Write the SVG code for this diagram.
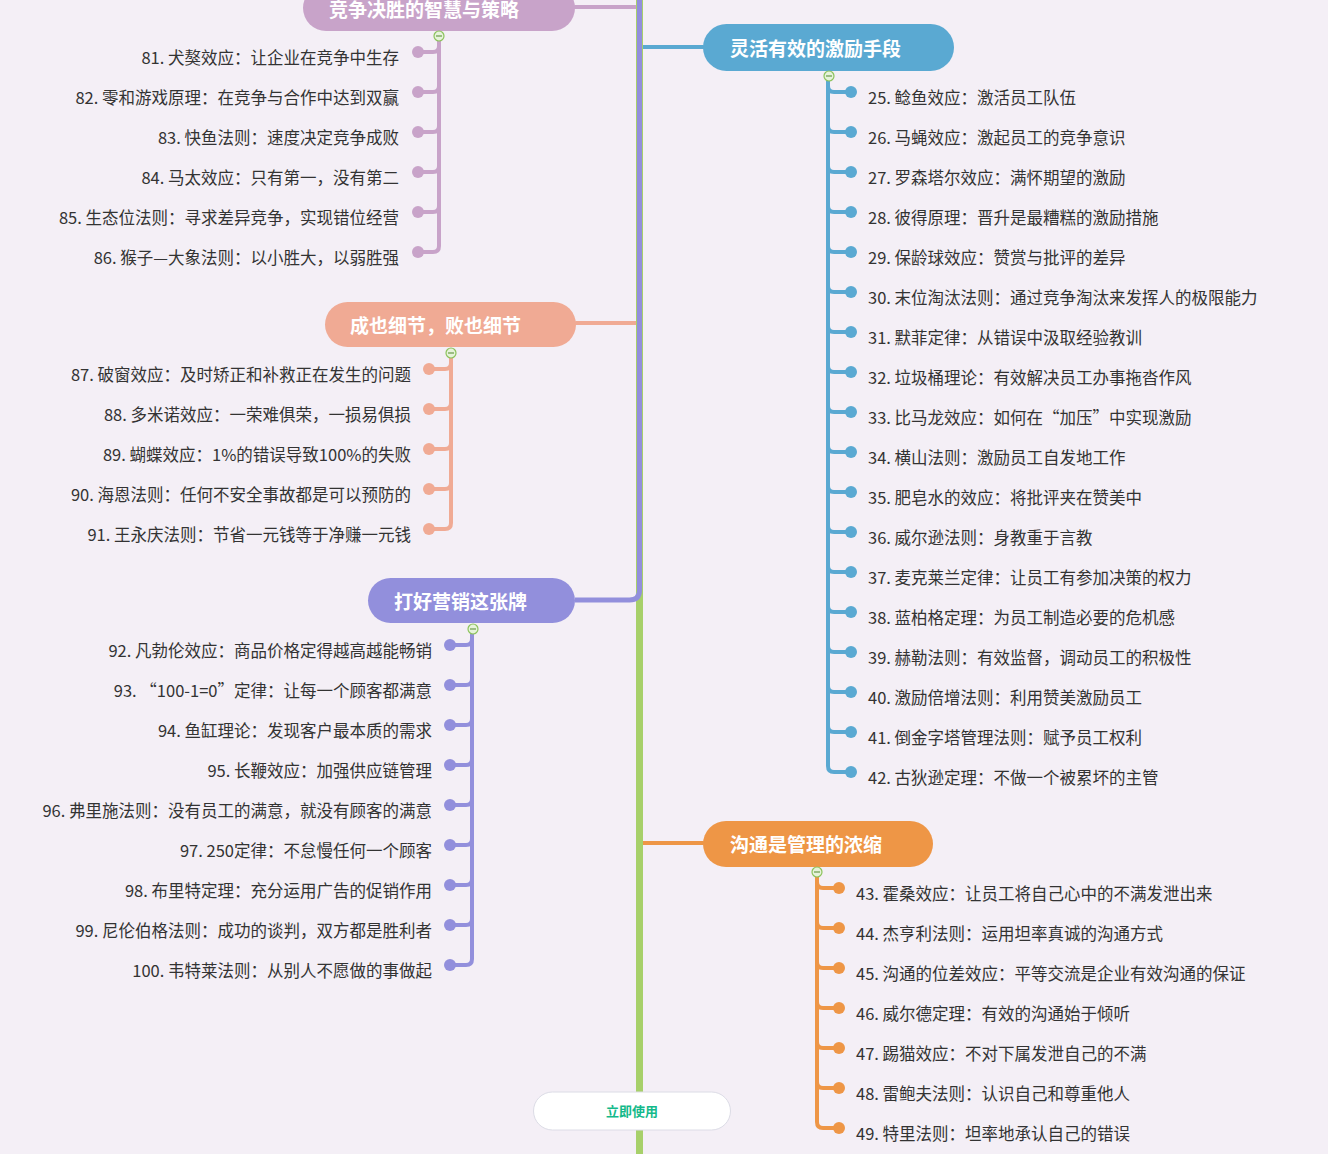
<svg xmlns="http://www.w3.org/2000/svg" width="1328" height="1154" viewBox="0 0 1328 1154">
<style>
.t{font-family:"Noto Sans CJK SC","Noto Sans",sans-serif;font-size:16.5px;fill:#333}
.l{text-anchor:end}
.n{font-family:"Noto Sans CJK SC","Noto Sans",sans-serif;font-size:19px;font-weight:bold;fill:#fff}
.br{fill:none;stroke-width:4;stroke-linecap:round}
.c1{stroke:#c8a3c9}.f1{fill:#c8a3c9}
.c2{stroke:#f0aa94}.f2{fill:#f0aa94}
.c3{stroke:#928fdc}.f3{fill:#928fdc}
.c4{stroke:#5aa9d2}.f4{fill:#5aa9d2}
.c5{stroke:#ee9646}.f5{fill:#ee9646}
.tg{fill:#e6f3da;stroke:#8cc35c;stroke-width:1.2}
.tm{stroke:#6a9a4a;stroke-width:1.2}
</style>
<rect width="1328" height="1154" fill="#f4eff6"/>
<g id="connectors">
<path class="br c1" d="M575,7 H637"/>
<path class="br c2" d="M576,323 H637"/>
<path class="br c4" d="M641,47 H703"/>
<path class="br c5" d="M641,843 H703"/>
<path d="M639.5,0 V1154" stroke="#a7d06a" stroke-width="7" fill="none"/>
<path d="M639.5,0 V590 Q639.5,600 629.5,600 H575" stroke="#928fdc" stroke-width="5" fill="none"/>
<path class="br c1" d="M439,41 V246 M439,46 Q439,52 433,52 H418 M439,86 Q439,92 433,92 H418 M439,126 Q439,132 433,132 H418 M439,166 Q439,172 433,172 H418 M439,206 Q439,212 433,212 H418 M439,246 Q439,252 433,252 H418"/>
<g class="f1"><circle cx="418" cy="52" r="6"/><circle cx="418" cy="92" r="6"/><circle cx="418" cy="132" r="6"/><circle cx="418" cy="172" r="6"/><circle cx="418" cy="212" r="6"/><circle cx="418" cy="252" r="6"/></g>
<path class="br c2" d="M451,358 V523 M451,363 Q451,369 445,369 H429 M451,403 Q451,409 445,409 H429 M451,443 Q451,449 445,449 H429 M451,483 Q451,489 445,489 H429 M451,523 Q451,529 445,529 H429"/>
<g class="f2"><circle cx="429" cy="369" r="6"/><circle cx="429" cy="409" r="6"/><circle cx="429" cy="449" r="6"/><circle cx="429" cy="489" r="6"/><circle cx="429" cy="529" r="6"/></g>
<path class="br c3" d="M472,634 V959 M472,639 Q472,645 466,645 H450 M472,679 Q472,685 466,685 H450 M472,719 Q472,725 466,725 H450 M472,759 Q472,765 466,765 H450 M472,799 Q472,805 466,805 H450 M472,839 Q472,845 466,845 H450 M472,879 Q472,885 466,885 H450 M472,919 Q472,925 466,925 H450 M472,959 Q472,965 466,965 H450"/>
<g class="f3"><circle cx="450" cy="645" r="6"/><circle cx="450" cy="685" r="6"/><circle cx="450" cy="725" r="6"/><circle cx="450" cy="765" r="6"/><circle cx="450" cy="805" r="6"/><circle cx="450" cy="845" r="6"/><circle cx="450" cy="885" r="6"/><circle cx="450" cy="925" r="6"/><circle cx="450" cy="965" r="6"/></g>
<path class="br c4" d="M828,81 V766 M828,86 Q828,92 834,92 H851 M828,126 Q828,132 834,132 H851 M828,166 Q828,172 834,172 H851 M828,206 Q828,212 834,212 H851 M828,246 Q828,252 834,252 H851 M828,286 Q828,292 834,292 H851 M828,326 Q828,332 834,332 H851 M828,366 Q828,372 834,372 H851 M828,406 Q828,412 834,412 H851 M828,446 Q828,452 834,452 H851 M828,486 Q828,492 834,492 H851 M828,526 Q828,532 834,532 H851 M828,566 Q828,572 834,572 H851 M828,606 Q828,612 834,612 H851 M828,646 Q828,652 834,652 H851 M828,686 Q828,692 834,692 H851 M828,726 Q828,732 834,732 H851 M828,766 Q828,772 834,772 H851"/>
<g class="f4"><circle cx="851" cy="92" r="6"/><circle cx="851" cy="132" r="6"/><circle cx="851" cy="172" r="6"/><circle cx="851" cy="212" r="6"/><circle cx="851" cy="252" r="6"/><circle cx="851" cy="292" r="6"/><circle cx="851" cy="332" r="6"/><circle cx="851" cy="372" r="6"/><circle cx="851" cy="412" r="6"/><circle cx="851" cy="452" r="6"/><circle cx="851" cy="492" r="6"/><circle cx="851" cy="532" r="6"/><circle cx="851" cy="572" r="6"/><circle cx="851" cy="612" r="6"/><circle cx="851" cy="652" r="6"/><circle cx="851" cy="692" r="6"/><circle cx="851" cy="732" r="6"/><circle cx="851" cy="772" r="6"/></g>
<path class="br c5" d="M817,877 V1122 M817,882 Q817,888 823,888 H839 M817,922 Q817,928 823,928 H839 M817,962 Q817,968 823,968 H839 M817,1002 Q817,1008 823,1008 H839 M817,1042 Q817,1048 823,1048 H839 M817,1082 Q817,1088 823,1088 H839 M817,1122 Q817,1128 823,1128 H839"/>
<g class="f5"><circle cx="839" cy="888" r="6"/><circle cx="839" cy="928" r="6"/><circle cx="839" cy="968" r="6"/><circle cx="839" cy="1008" r="6"/><circle cx="839" cy="1048" r="6"/><circle cx="839" cy="1088" r="6"/><circle cx="839" cy="1128" r="6"/></g>
</g>
<g id="node-competition">
<rect x="303" y="-15" width="272" height="46" rx="23" class="f1"/>
<text class="n" x="329" y="17">竞争决胜的智慧与策略</text>
<circle class="tg" cx="439" cy="36" r="5"/><path class="tm" d="M436,36 H442"/>
</g>
<g id="node-detail">
<rect x="325" y="302" width="251" height="45" rx="22.5" class="f2"/>
<text class="n" x="350" y="333">成也细节，败也细节</text>
<circle class="tg" cx="451" cy="353" r="5"/><path class="tm" d="M448,353 H454"/>
</g>
<g id="node-marketing">
<rect x="368" y="578" width="207" height="45" rx="22.5" class="f3"/>
<text class="n" x="394" y="609">打好营销这张牌</text>
<circle class="tg" cx="473" cy="629" r="5"/><path class="tm" d="M470,629 H476"/>
</g>
<g id="node-motivation">
<rect x="703" y="24" width="251" height="47" rx="23.5" class="f4"/>
<text class="n" x="730" y="56">灵活有效的激励手段</text>
<circle class="tg" cx="829" cy="76" r="5"/><path class="tm" d="M826,76 H832"/>
</g>
<g id="node-communication">
<rect x="703" y="821" width="230" height="46" rx="23" class="f5"/>
<text class="n" x="730" y="852">沟通是管理的浓缩</text>
<circle class="tg" cx="817" cy="872" r="5"/><path class="tm" d="M814,872 H820"/>
</g>
<g id="items-competition" class="t l">
<text x="399" y="64">81. 犬獒效应：让企业在竞争中生存</text>
<text x="399" y="104">82. 零和游戏原理：在竞争与合作中达到双赢</text>
<text x="399" y="144">83. 快鱼法则：速度决定竞争成败</text>
<text x="399" y="184">84. 马太效应：只有第一，没有第二</text>
<text x="399" y="224">85. 生态位法则：寻求差异竞争，实现错位经营</text>
<text x="399" y="264">86. 猴子—大象法则：以小胜大，以弱胜强</text>
</g>
<g id="items-detail" class="t l">
<text x="411" y="381">87. 破窗效应：及时矫正和补救正在发生的问题</text>
<text x="411" y="421">88. 多米诺效应：一荣难俱荣，一损易俱损</text>
<text x="411" y="461">89. 蝴蝶效应：1%的错误导致100%的失败</text>
<text x="411" y="501">90. 海恩法则：任何不安全事故都是可以预防的</text>
<text x="411" y="541">91. 王永庆法则：节省一元钱等于净赚一元钱</text>
</g>
<g id="items-marketing" class="t l">
<text x="432" y="657">92. 凡勃伦效应：商品价格定得越高越能畅销</text>
<text x="432" y="697">93. “100-1=0”定律：让每一个顾客都满意</text>
<text x="432" y="737">94. 鱼缸理论：发现客户最本质的需求</text>
<text x="432" y="777">95. 长鞭效应：加强供应链管理</text>
<text x="432" y="817">96. 弗里施法则：没有员工的满意，就没有顾客的满意</text>
<text x="432" y="857">97. 250定律：不怠慢任何一个顾客</text>
<text x="432" y="897">98. 布里特定理：充分运用广告的促销作用</text>
<text x="432" y="937">99. 尼伦伯格法则：成功的谈判，双方都是胜利者</text>
<text x="432" y="977">100. 韦特莱法则：从别人不愿做的事做起</text>
</g>
<g id="items-motivation" class="t">
<text x="868" y="104">25. 鲶鱼效应：激活员工队伍</text>
<text x="868" y="144">26. 马蝇效应：激起员工的竞争意识</text>
<text x="868" y="184">27. 罗森塔尔效应：满怀期望的激励</text>
<text x="868" y="224">28. 彼得原理：晋升是最糟糕的激励措施</text>
<text x="868" y="264">29. 保龄球效应：赞赏与批评的差异</text>
<text x="868" y="304">30. 末位淘汰法则：通过竞争淘汰来发挥人的极限能力</text>
<text x="868" y="344">31. 默菲定律：从错误中汲取经验教训</text>
<text x="868" y="384">32. 垃圾桶理论：有效解决员工办事拖沓作风</text>
<text x="868" y="424">33. 比马龙效应：如何在“加压”中实现激励</text>
<text x="868" y="464">34. 横山法则：激励员工自发地工作</text>
<text x="868" y="504">35. 肥皂水的效应：将批评夹在赞美中</text>
<text x="868" y="544">36. 威尔逊法则：身教重于言教</text>
<text x="868" y="584">37. 麦克莱兰定律：让员工有参加决策的权力</text>
<text x="868" y="624">38. 蓝柏格定理：为员工制造必要的危机感</text>
<text x="868" y="664">39. 赫勒法则：有效监督，调动员工的积极性</text>
<text x="868" y="704">40. 激励倍增法则：利用赞美激励员工</text>
<text x="868" y="744">41. 倒金字塔管理法则：赋予员工权利</text>
<text x="868" y="784">42. 古狄逊定理：不做一个被累坏的主管</text>
</g>
<g id="items-communication" class="t">
<text x="856" y="900">43. 霍桑效应：让员工将自己心中的不满发泄出来</text>
<text x="856" y="940">44. 杰亨利法则：运用坦率真诚的沟通方式</text>
<text x="856" y="980">45. 沟通的位差效应：平等交流是企业有效沟通的保证</text>
<text x="856" y="1020">46. 威尔德定理：有效的沟通始于倾听</text>
<text x="856" y="1060">47. 踢猫效应：不对下属发泄自己的不满</text>
<text x="856" y="1100">48. 雷鲍夫法则：认识自己和尊重他人</text>
<text x="856" y="1140">49. 特里法则：坦率地承认自己的错误</text>
</g>
<g id="button">
<rect x="533.5" y="1092" width="197" height="38" rx="19" fill="#fff" stroke="#dcdce6" stroke-width="1"/>
<text x="632" y="1116" text-anchor="middle" font-family="'Noto Sans CJK SC',sans-serif" font-size="13" font-weight="bold" fill="#13b98a">立即使用</text>
</g>
</svg>
